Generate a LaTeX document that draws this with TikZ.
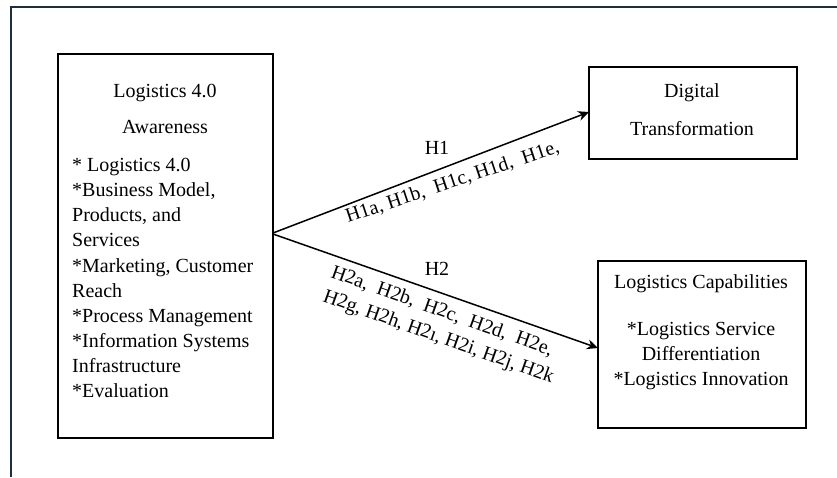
\documentclass[tikz,border=0pt]{standalone}
\usepackage{fontspec}
\setmainfont{Liberation Serif}
\usetikzlibrary{arrows.meta}
\definecolor{framec}{HTML}{1E2E3C}
\begin{document}
\begin{tikzpicture}[x=1pt,y=-1pt,
  box/.style={draw=black,line width=1.6pt,inner sep=0pt},
  txt/.style={inner sep=0pt,font=\fontsize{20}{25}\selectfont},
  arr/.style={line width=1.5pt,-{Stealth[length=11pt,width=10pt]}},
  frame/.style={draw=framec,line width=1.6pt}]
\useasboundingbox (0,0) rectangle (837,477);
\draw[frame] (11,477) -- (11,7) -- (837,7);
% boxes
\node[box,minimum width=215pt,minimum height=384pt] (lb) at (165.5,246) {};
\node[box,minimum width=208pt,minimum height=92pt] (dig) at (693,113) {};
\node[box,minimum width=208pt,minimum height=167pt] (cap) at (702,344.5) {};
% left box text
\node[txt,anchor=base] (l1) at (165,97) {Logistics 4.0};
\node[txt,anchor=base] (l2) at (165,133) {Awareness};
\node[txt,anchor=base west] (l3) at (72,171) {* Logistics 4.0};
\node[txt,anchor=base west] (l4) at (72,196) {*Business Model,};
\node[txt,anchor=base west] (l5) at (72,221) {Products, and};
\node[txt,anchor=base west] (l6) at (72,246) {Services};
\node[txt,anchor=base west] (l7) at (72,272) {*Marketing, Customer};
\node[txt,anchor=base west] (l8) at (72,297) {Reach};
\node[txt,anchor=base west] (l9) at (72,322) {*Process Management};
\node[txt,anchor=base west] (l10) at (72,347) {*Information Systems};
\node[txt,anchor=base west] (l11) at (72,372) {Infrastructure};
\node[txt,anchor=base west] (l12) at (72,397) {*Evaluation};
% digital box text
\node[txt,anchor=base] (d1) at (692,97) {Digital};
\node[txt,anchor=base] (d2) at (692,135) {Transformation};
% capabilities box text
\node[txt,anchor=base] (c1) at (701,288) {Logistics Capabilities};
\node[txt,anchor=base] (c2) at (701,335) {*Logistics Service};
\node[txt,anchor=base] (c3) at (701,360) {Differentiation};
\node[txt,anchor=base] (c4) at (701,385) {*Logistics Innovation};
% arrows
\coordinate (s1) at (273,233);
\coordinate (s2) at (273,234);
\coordinate (e1) at (589,112);
\coordinate (e2) at (598,348);
\draw[arr] (s1) -- (e1);
\draw[arr] (s2) -- (e2);
% labels
\node[txt,anchor=base] (h1) at (437,154) {H1};
\node[txt,anchor=base west,rotate=18.5] (h1l) at (348,223) {H1a, H1b,\ \ H1c, H1d,\ \ H1e,};
\node[txt,anchor=base] (h2) at (437,275) {H2};
\node[txt,anchor=base west,rotate=-19.7] (h2l1) at (330,277) {H2a,\ \ H2b,\ \ H2c,\ \ H2d,\ \ H2e,};
\node[txt,anchor=base west,rotate=-19.7] (h2l2) at (322,301) {H2g, H2h, H2ı, H2i, H2j, H2k};
\end{tikzpicture}
\end{document}
